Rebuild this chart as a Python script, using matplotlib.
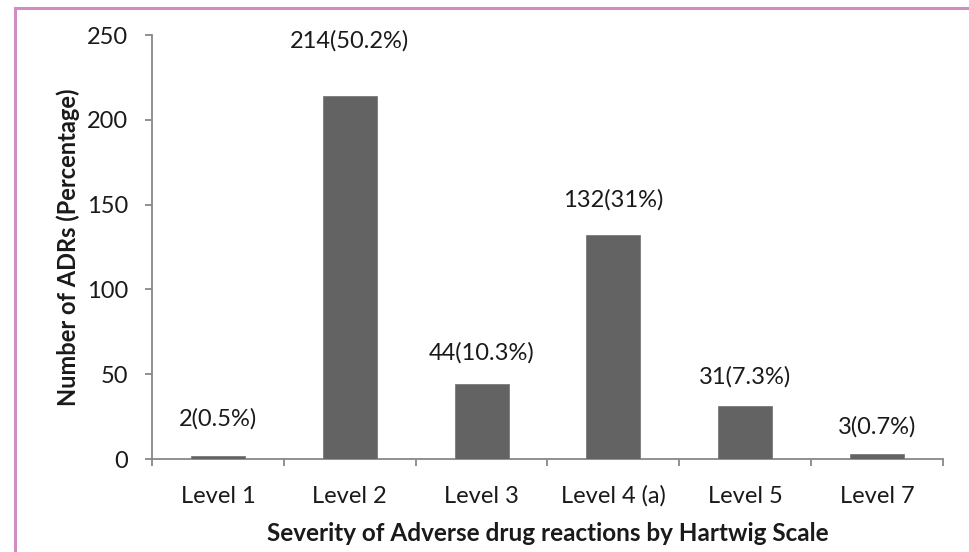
import matplotlib
matplotlib.use("Agg")
import matplotlib.pyplot as plt
from matplotlib.patches import Rectangle

categories = ["Level 1", "Level 2", "Level 3", "Level 4 (a)", "Level 5", "Level 7"]
counts = [2, 214, 44, 132, 31, 3]
percents = ["0.5%", "50.2%", "10.3%", "31%", "7.3%", "0.7%"]
y_ticks = [0, 50, 100, 150, 200, 250]

plt.rcParams["font.family"] = ["Lato", "DejaVu Sans"]

W, H = 969, 552
fig = plt.figure(figsize=(W / 100, H / 100), dpi=100)
ax = fig.add_axes([152 / W, 1 - 459 / H, 791 / W, 424 / H])

x = list(range(len(categories)))
ax.bar(x, counts, width=0.41, color="#636363", edgecolor="#7a7a7a", linewidth=0.6, zorder=3)

# value labels above the bars (Level 2 label sits higher)
label_offsets = [19, 32, 15, 18, 13.5, 12]
for xi, c, p, off in zip(x, counts, percents, label_offsets):
    ax.annotate(f"{c}({p})", (xi, c), xytext=(0, off), textcoords="offset points",
                ha="center", va="bottom", fontsize=17, color="#1a1a1a")

ax.set_xlim(-0.5, len(categories) - 0.5)
ax.set_ylim(0, 250)
ax.set_yticks(y_ticks)
ax.set_xticks(x)
ax.set_xticklabels(categories)
ax.set_xticks([i - 0.5 for i in range(len(categories) + 1)], minor=True)

for side in ("top", "right"):
    ax.spines[side].set_visible(False)
for side in ("left", "bottom"):
    ax.spines[side].set_color("#888888")
    ax.spines[side].set_linewidth(1.3)

ax.tick_params(axis="y", which="major", length=5, width=1.3, color="#888888",
               labelsize=17, pad=12, labelcolor="#1a1a1a")
ax.tick_params(axis="x", which="major", length=0, labelsize=17, pad=31.5, labelcolor="#1a1a1a")
ax.tick_params(axis="x", which="minor", length=5, width=1.3, color="#888888")
for lbl in ax.get_xticklabels():
    lbl.set_verticalalignment("baseline")

ax.set_xlabel("Severity of Adverse drug reactions by Hartwig Scale", fontsize=17.5,
              fontweight="bold", color="#1a1a1a", va="baseline")
ax.xaxis.set_label_coords(0.5, -82 / 424)
ax.set_ylabel("Number of ADRs (Percentage)", fontsize=17, fontweight="bold",
              color="#1a1a1a", va="center")
ax.yaxis.set_label_coords(-84 / 791, 0.5)

# outer frame around the chart area
fig.patches.append(Rectangle((15 / W, -0.05), 1.2, 1 - 8 / H + 0.05,
                             transform=fig.transFigure, fill=False,
                             edgecolor="#D08CC4", linewidth=2.2))

fig.savefig("out.png", dpi=100)
